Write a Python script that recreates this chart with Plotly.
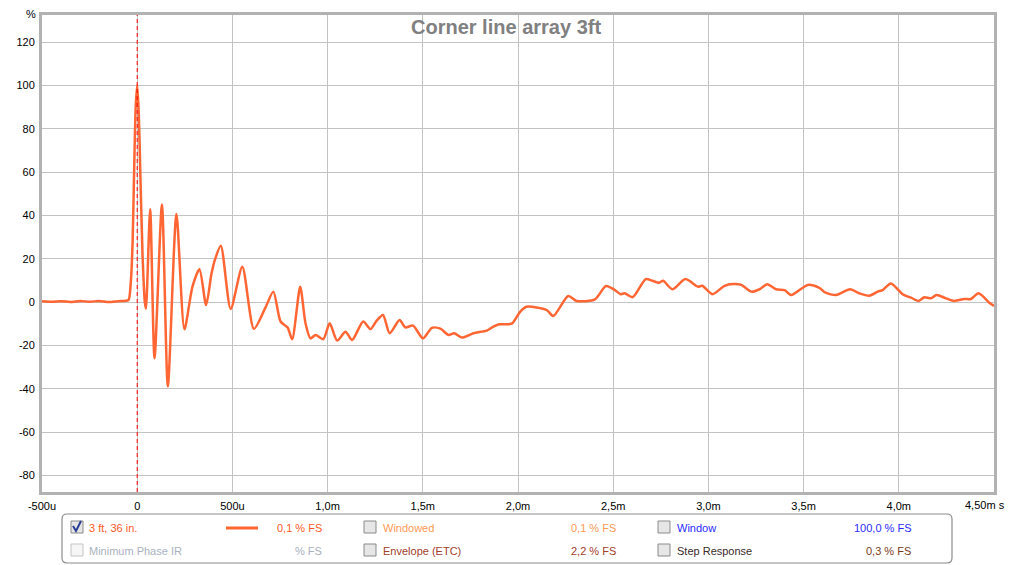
import plotly.graph_objects as go

# ---------------- data ----------------
time_ms = [-0.5, -0.45, -0.4, -0.35, -0.3, -0.25, -0.2, -0.15, -0.1, -0.06,
           -0.045, -0.033, -0.024, -0.016, -0.008, 0.0, 0.008, 0.016, 0.028, 0.040, 0.046,
           0.068, 0.091, 0.13, 0.161, 0.206, 0.248, 0.29, 0.327, 0.362, 0.39, 0.41, 0.439,
           0.491, 0.552, 0.613, 0.674, 0.715, 0.753, 0.79, 0.814, 0.856, 0.884, 0.91, 0.937,
           0.977, 1.011, 1.05, 1.094, 1.129, 1.187, 1.225, 1.256, 1.291, 1.326, 1.378, 1.408,
           1.449, 1.501, 1.548, 1.592, 1.635, 1.665, 1.705, 1.766, 1.836, 1.871, 1.903, 1.967,
           2.011, 2.044, 2.151, 2.185, 2.264, 2.308, 2.404, 2.462, 2.509, 2.539, 2.561, 2.602,
           2.671, 2.706, 2.741, 2.762, 2.811, 2.879, 2.945, 2.968, 3.021, 3.085, 3.129, 3.173,
           3.225, 3.269, 3.309, 3.356, 3.4, 3.435, 3.522, 3.583, 3.615, 3.671, 3.744, 3.793,
           3.845, 3.889, 3.915, 3.959, 4.02, 4.064, 4.104, 4.134, 4.169, 4.198, 4.248, 4.291,
           4.344, 4.379, 4.419, 4.475, 4.5]
response_pct = [0.3, 0.1, 0.4, 0.0, 0.5, 0.1, 0.5, 0.0, 0.4, 0.6,
                1.0, 10, 28, 61, 90, 100, 88, 61, 22, 0, -3,
                42.8, -26, 45, -39, 40.6, -12.6, 7, 15.1, -1.4, 13, 20, 26,
                -3.2, 16.3, -12.4, -2.5, 4.8, -9, -11.8, -17.2, 7, -9.8, -16.8, -15.2,
                -17.2, -9.8, -17.8, -13.7, -17.5, -9, -12.5, -8.8, -6, -14.4, -8.3, -11.7,
                -10.9, -16.8, -11.9, -12.3, -15.2, -14.4, -16.4, -14.4, -13.2, -11.4, -10.3, -10.0,
                -4.5, -2.2, -3.7, -6.5, 2.8, 0.5, 1.2, 7.4, 5.5, 3.6, 4.0, 2.2,
                10.6, 9.8, 8.9, 9.8, 5.9, 10.6, 7.1, 7.5, 3.6, 7.5, 8.3, 7.9,
                4.8, 5.9, 8.2, 5.9, 5.5, 3.2, 7.9, 6.5, 4.3, 3.2, 5.9, 4.0,
                2.9, 4.8, 5.5, 8.6, 3.6, 2.0, 0.5, 2.2, 1.7, 3.2, 1.7, 0.5,
                1.4, 1.4, 4.0, -0.3, -1.8]

x_tickvals = [-0.5, 0, 0.5, 1.0, 1.5, 2.0, 2.5, 3.0, 3.5, 4.0, 4.5]
x_ticktext = ["-500u", "0", "500u", "1,0m", "1,5m", "2,0m", "2,5m", "3,0m", "3,5m", "4,0m", ""]
x_last_label = "4,50m s"
y_tickvals = [-80, -60, -40, -20, 0, 20, 40, 60, 80, 100, 120]
y_ticktext = [str(v) for v in y_tickvals]
y_unit = "%"

title_text = "Corner line array 3ft"
legend_row1 = [("3 ft, 36 in.", "0,1 % FS", "#ff5a2a"),
               ("Windowed", "0,1 % FS", "#ff9955"),
               ("Window", "100,0 % FS", "#2a2aff")]
legend_row2 = [("Minimum Phase IR", "% FS", "#a9b1c0"),
               ("Envelope (ETC)", "2,2 % FS", "#a3402a"),
               ("Step Response", "0,3 % FS", "#3a2a2a")]
legend_row2_value_colors = ["#a9b1c0", "#a3402a", "#7a3a1a"]

# ---------------- geometry (page pixels) ----------------
PAGE_W, PAGE_H = 1015, 565
OFF = 8  # default body margin of the html page
W, H = PAGE_W - OFF, PAGE_H - OFF
PL, PR, PT, PB = 42, 994, 15, 492  # plot area in page pixels


def fx(px):
    return (px - PL) / (PR - PL)


def fy(py):
    return (PB - py) / (PB - PT)


FONT = "Liberation Sans, Arial, sans-serif"

fig = go.Figure()
fig.add_trace(go.Scatter(
    x=time_ms, y=response_pct, mode="lines",
    line=dict(color="#ff6633", width=2.5, shape="spline", smoothing=0.7),
    hoverinfo="skip", showlegend=False))

shapes = []
annotations = []

# frame around plot
shapes.append(dict(type="rect", xref="paper", yref="paper",
                   x0=fx(PL - 1.5), x1=fx(PR + 1.5), y0=fy(PB + 1.5), y1=fy(PT - 1.5),
                   line=dict(color="#b2b2b2", width=3), layer="above"))
# red dashed marker at t=0
shapes.append(dict(type="line", xref="x", yref="paper", x0=0, x1=0, y0=0, y1=1,
                   line=dict(color="#ff0000", width=1, dash="4px,3px"), layer="above"))

# legend box (rounded)
bx0, bx1, by0, by1, r = 62, 952, 514, 563, 5
rx, ry = r / (PR - PL), r / (PB - PT)
X0, X1, Y0, Y1 = fx(bx0), fx(bx1), fy(by1), fy(by0)
path = (f"M {X0+rx},{Y1} L {X1-rx},{Y1} Q {X1},{Y1} {X1},{Y1-ry} "
        f"L {X1},{Y0+ry} Q {X1},{Y0} {X1-rx},{Y0} L {X0+rx},{Y0} "
        f"Q {X0},{Y0} {X0},{Y0+ry} L {X0},{Y1-ry} Q {X0},{Y1} {X0+rx},{Y1} Z")
shapes.append(dict(type="path", xref="paper", yref="paper", path=path,
                   line=dict(color="#8c8c8c", width=1.2), fillcolor="#ffffff"))

col_box_x = [71, 364, 658]
col_text_x = [87, 381, 675]
col_val_right = [324, 618, 913]
row_y = [528, 551]
box_top = [521, 544]

for ri, row in enumerate([legend_row1, legend_row2]):
    for ci, (label, val, color) in enumerate(row):
        bx = col_box_x[ci]
        bt = box_top[ri]
        disabled = (ri == 1 and ci == 0)
        shapes.append(dict(type="rect", xref="paper", yref="paper",
                           x0=fx(bx), x1=fx(bx + 12), y0=fy(bt + 12), y1=fy(bt),
                           line=dict(color="#c4c4c4" if disabled else "#8a8a8a", width=1),
                           fillcolor="#f6f6f6" if disabled else "#e6e6e6"))
        annotations.append(dict(xref="paper", yref="paper", x=fx(col_text_x[ci]), y=fy(row_y[ri]),
                                text=label, showarrow=False, xanchor="left", yanchor="middle",
                                font=dict(family=FONT, size=11, color=color)))
        vcol = color if ri == 0 else legend_row2_value_colors[ci]
        annotations.append(dict(xref="paper", yref="paper", x=fx(col_val_right[ci]), y=fy(row_y[ri]),
                                text=val, showarrow=False, xanchor="right", yanchor="middle",
                                font=dict(family=FONT, size=11, color=vcol)))

# check mark in first box
cm = f"M {fx(73)},{fy(526)} L {fx(76)},{fy(531)} L {fx(81)},{fy(521)}"
shapes.append(dict(type="path", xref="paper", yref="paper", path=cm,
                   line=dict(color="#2b3f96", width=2)))
# line sample
shapes.append(dict(type="line", xref="paper", yref="paper", x0=fx(226), x1=fx(258),
                   y0=fy(528), y1=fy(528), line=dict(color="#ff6633", width=3)))

# title
annotations.append(dict(xref="paper", yref="paper", x=fx(506), y=fy(27), text=f"<b>{title_text}</b>",
                        showarrow=False, xanchor="center", yanchor="middle",
                        font=dict(family=FONT, size=20, color="#808080")))
# y unit
annotations.append(dict(xref="paper", yref="paper", x=fx(31), y=fy(14), text=y_unit,
                        showarrow=False, xanchor="center", yanchor="middle",
                        font=dict(family=FONT, size=11, color="#000000")))
# last x label (right aligned near the page edge as in reference)
annotations.append(dict(xref="paper", yref="paper", x=fx(1007), y=fy(505), text=x_last_label,
                        showarrow=False, xanchor="right", yanchor="middle",
                        font=dict(family=FONT, size=11, color="#000000")))

fig.update_layout(
    width=W, height=H,
    margin=dict(l=PL - OFF, r=PAGE_W - PR, t=PT - OFF, b=PAGE_H - PB, autoexpand=False),
    paper_bgcolor="#ffffff", plot_bgcolor="#ffffff",
    font=dict(family=FONT, size=11, color="#000000"),
    shapes=shapes, annotations=annotations,
    showlegend=False,
    xaxis=dict(range=[-0.5, 4.5], tickvals=x_tickvals, ticktext=x_ticktext, automargin=False,
               showgrid=True, gridcolor="#c3c3c3", gridwidth=1, zeroline=False,
               showline=False, ticks="outside", ticklen=4, tickcolor="rgba(0,0,0,0)",
               tickfont=dict(family=FONT, size=11, color="#000000"), fixedrange=True),
    yaxis=dict(range=[-87.7, 132.5], tickvals=y_tickvals, ticktext=y_ticktext, automargin=False,
               showgrid=True, gridcolor="#c3c3c3", gridwidth=1, zeroline=False,
               showline=False, ticks="outside", ticklen=4, tickcolor="rgba(0,0,0,0)",
               tickfont=dict(family=FONT, size=11, color="#000000"), fixedrange=True),
)

fig.write_html("out.html")
